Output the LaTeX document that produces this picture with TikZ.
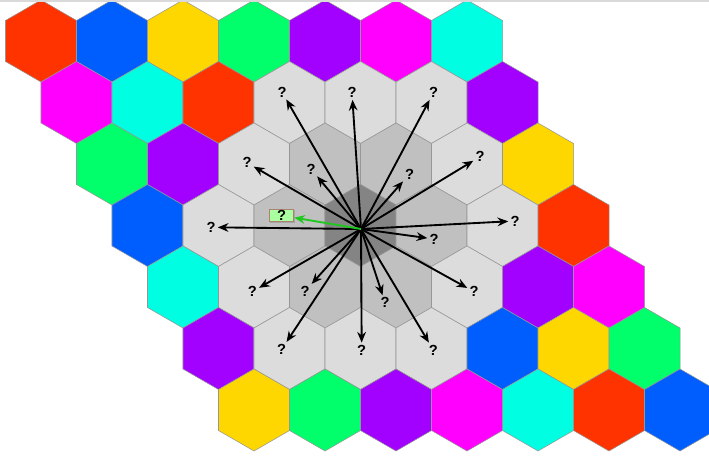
\documentclass[tikz,border=0pt]{standalone}
\usepackage{fontspec}
\setmainfont{Liberation Sans}
\usepackage{xcolor}
\usepackage{tikz}
\usetikzlibrary{shapes.geometric,arrows.meta,shadows}
\definecolor{hexred}{RGB}{255,51,0}
\definecolor{hexblue}{RGB}{0,94,255}
\definecolor{hexyellow}{RGB}{255,215,0}
\definecolor{hexgreen}{RGB}{0,255,106}
\definecolor{hexpurple}{RGB}{162,0,255}
\definecolor{hexmagenta}{RGB}{255,0,255}
\definecolor{hexcyan}{RGB}{0,255,226}
\definecolor{ringlight}{RGB}{220,220,220}
\definecolor{ringmid}{RGB}{192,192,192}
\definecolor{ringdark}{RGB}{132,132,132}
\definecolor{hexline}{RGB}{150,150,150}
\definecolor{guessfill}{RGB}{170,255,160}
\definecolor{guessline}{RGB}{170,130,110}
\definecolor{guessgreen}{RGB}{30,200,30}

\begin{document}
\begin{tikzpicture}[x=0.75pt, y=-0.75pt, every node/.style={font=\fontsize{11}{12}\selectfont\bfseries},
  hexa/.style={regular polygon, regular polygon sides=6, shape border rotate=30, minimum size=61.5pt, inner sep=0pt, draw=hexline, line width=0.4pt},
  ask/.style={inner sep=1.5pt},
  guess/.style={draw=guessline, fill=guessfill, line width=0.6pt, inner sep=0pt, minimum width=18.5pt, minimum height=9.6pt,
    drop shadow={shadow xshift=0.8pt, shadow yshift=-0.8pt, fill=black!45, opacity=0.5}},
  arr/.style={-{Stealth[length=8pt,width=6.5pt]}, line width=1.4pt}]
  \useasboundingbox (0,0) rectangle (709,459);
  % board: 7 rows, each shifted half a cell
  \foreach \r/\cols in {
    0/{hexred,hexblue,hexyellow,hexgreen,hexpurple,hexmagenta,hexcyan},
    1/{hexmagenta,hexcyan,hexred,ringlight,ringlight,ringlight,hexpurple},
    2/{hexgreen,hexpurple,ringlight,ringmid,ringmid,ringlight,hexyellow},
    3/{hexblue,ringlight,ringmid,ringdark,ringmid,ringlight,hexred},
    4/{hexcyan,ringlight,ringmid,ringmid,ringlight,hexpurple,hexmagenta},
    5/{hexpurple,ringlight,ringlight,ringlight,hexblue,hexyellow,hexgreen},
    6/{hexyellow,hexgreen,hexpurple,hexmagenta,hexcyan,hexred,hexblue}}
    \foreach \col [count=\c from 0] in \cols
      \node[hexa, fill=\col] (h\r\c) at ({41+71*\c+35.5*\r},{41+61.5*\r}) {};
  \draw[line width=1.2pt, black!15] (0,0.8) -- (709,0.8);

  % unknown cells
  \node[ask] (q13) at (282,92) {?};
  \node[ask] (q14) at (352,92.5) {?};
  \node[ask] (q15) at (433.5,92.5) {?};
  \node[ask] (q22) at (247,162.7) {?};
  \node[ask] (q23) at (311,169) {?};
  \node[ask] (q24) at (409.5,174) {?};
  \node[ask] (q25) at (480,156.7) {?};
  \node[ask] (q31) at (211,227.3) {?};
  \node[guess] (q32) at (281.5,215.5) {?};
  \node[ask] (q34) at (434,239) {?};
  \node[ask] (q35) at (515,221) {?};
  \node[ask] (q41) at (252.3,291.7) {?};
  \node[ask] (q42) at (305,291.3) {?};
  \node[ask] (q43) at (385,302.7) {?};
  \node[ask] (q44) at (474,291.7) {?};
  \node[ask] (q51) at (281.7,349.3) {?};
  \node[ask] (q52) at (361.7,350) {?};
  \node[ask] (q53) at (433.3,350) {?};

  \coordinate (src) at (361,229);
  \foreach \q in {q13,q14,q15,q22,q23,q24,q25,q31,q34,q35,q41,q42,q43,q44,q51,q52,q53}
    \draw[arr] (src) -- (\q);
  \draw[arr, guessgreen] (src) -- (q32);
\end{tikzpicture}
\end{document}
